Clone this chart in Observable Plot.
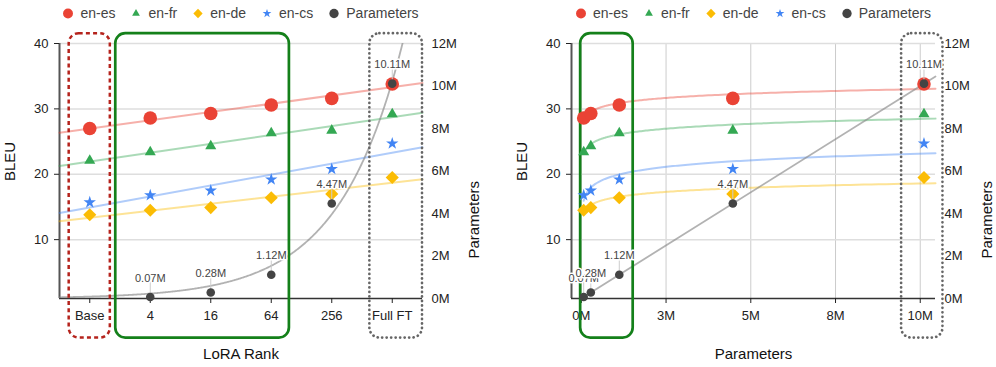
<!DOCTYPE html>
<html>
<head>
<meta charset="utf-8">
<script src="https://cdn.jsdelivr.net/npm/d3@7"></script>
<script src="https://cdn.jsdelivr.net/npm/@observablehq/plot@0.6"></script>
<style>
  body { margin: 0; background: #fff; font-family: 'Liberation Sans', Arial, Helvetica, sans-serif; }
  #wrap { display: flex; width: 996px; height: 367px; }
  .panel { position: relative; width: 498px; height: 367px; }
  .panel svg { position: absolute; left: 0; top: 0; overflow: visible; }
  .legend { position: absolute; top: 5px; display: flex; justify-content: center; align-items: center;
            font-size: 14px; color: #444; white-space: nowrap; z-index: 2; }
  .legend .item { display: flex; align-items: center; margin: 0 7.5px; }
  .legend svg { position: static; margin-right: 6px; }
</style>
</head>
<body>
<div id="wrap"></div>
<script>
// ---------------- data ----------------
const ranks = ["Base", "4", "16", "64", "256", "Full FT"];
const enEs = [27.0, 28.6, 29.3, 30.6, 31.6, 33.8];
const enFr = [22.1, 23.4, 24.3, 26.3, 26.7, 29.2];
const enDe = [13.8, 14.5, 14.9, 16.4, 17.0, 19.5];
const enCs = [15.7, 16.8, 17.5, 19.2, 20.8, 24.7];
const params = [null, 0.07e6, 0.28e6, 1.12e6, 4.47e6, 10.11e6];
const paramLabels = ["", "0.07M", "0.28M", "1.12M", "4.47M", "10.11M"];
const bleuTicks = [10, 20, 30, 40];
const paramTicks = [0, 2e6, 4e6, 6e6, 8e6, 10e6, 12e6];
const paramXTicks = [0, 2.5e6, 5e6, 7.5e6, 10e6];

// ---------------- styling ----------------
const FONT = "'Liberation Sans', Arial, Helvetica, sans-serif";
const series = [
  {name: "en-es", values: enEs, color: "#EA4335", symbol: "circle",   r: 6.8, lsym: d3.symbolCircle,   lsize: 78},
  {name: "en-fr", values: enFr, color: "#34A853", symbol: "triangle", r: 4.1, lsym: d3.symbolTriangle, lsize: 26},
  {name: "en-de", values: enDe, color: "#FBBC04", symbol: "diamond2", r: 5.9, lsym: d3.symbolDiamond2, lsize: 55},
  {name: "en-cs", values: enCs, color: "#4285F4", symbol: "star",     r: 3.9, lsym: d3.symbolStar,     lsize: 24}
];
const paramColor = "#444";
const yDomain = [1, 40];
const pScale = d3.scaleLinear([0, 12e6], yDomain); // secondary axis mapped into BLEU units
const fmtM = v => `${Math.round(v / 1e6)}M`;

const idx = d3.range(ranks.length);
const rows = idx.map(i => ({i, rank: ranks[i], param: params[i], plabel: paramLabels[i]}));
const pRows = rows.filter(d => d.param != null);

// ---------------- fits ----------------
function linReg(xs, ys) {
  const mx = d3.mean(xs), my = d3.mean(ys);
  const b = d3.sum(xs, (x, k) => (x - mx) * (ys[k] - my)) / d3.sum(xs, x => (x - mx) ** 2);
  return {a: my - b * mx, b};
}
function expFit(xs, ys) {
  let best = null;
  for (let b = 0.05; b <= 3; b += 0.0005) {
    let sye = 0, see = 0;
    xs.forEach((x, k) => { const e = Math.exp(b * x); sye += ys[k] * e; see += e * e; });
    const a = sye / see;
    let ss = 0;
    xs.forEach((x, k) => { const r = ys[k] - a * Math.exp(b * x); ss += r * r; });
    if (!best || ss < best.ss) best = {a, b, ss};
  }
  return best;
}

// ---------------- common marks ----------------
const boxStyles = {
  base: {stroke: "#b5231c", strokeWidth: 2.5, strokeDasharray: "4,3.2"},
  lora: {stroke: "#14801a", strokeWidth: 2.7},
  full: {stroke: "#666", strokeWidth: 2.7, strokeDasharray: "0.1,4.4", strokeLinecap: "round"}
};
function boxMarks(list) {
  return list.map(h => Plot.rect([h], {x1: "x1", x2: "x2", y1: -5.05, y2: 41.5, rx: 10, fill: "none", ...boxStyles[h.kind]}));
}
function axesMarks(xDomain, xTicks, xFormat, xTitle, titleDxRight, gridX) {
  return [
    ...(gridX ? [Plot.gridX(xTicks, {stroke: "#ccc", strokeOpacity: 1, strokeWidth: 1})] : []),
    Plot.gridY(bleuTicks, {stroke: "#dedede", strokeOpacity: 1, strokeWidth: 1.5}),
    Plot.ruleX([xDomain[0]], {stroke: "#555", strokeWidth: 2}),
    Plot.ruleY([yDomain[0]], {stroke: "#333", strokeWidth: 1.5}),
    Plot.axisY(bleuTicks, {anchor: "left", tickSize: 5, tickPadding: 6, fontSize: 13, fill: "#222", label: null}),
    Plot.axisY(paramTicks.map(pScale), {anchor: "right", tickSize: 0, tickPadding: 9, fontSize: 13, fill: "#222",
      tickFormat: d => fmtM(pScale.invert(d)), label: null}),
    Plot.axisX(xTicks, {anchor: "bottom", tickSize: 5, tickPadding: 7, fontSize: 13, fill: "#222", tickFormat: xFormat, label: null}),
    Plot.text([xTitle], {frameAnchor: "bottom", dy: 60, fontSize: 15, fill: "#111", text: d => d}),
    Plot.text(["BLEU"], {frameAnchor: "left", dx: -49, dy: 10, rotate: -90, fontSize: 15, fill: "#111", text: d => d}),
    Plot.text(["Parameters"], {frameAnchor: "right", dx: titleDxRight, dy: 10, rotate: -90, fontSize: 15, fill: "#111", text: d => d})
  ];
}
function pointMarks(xAcc, data) {
  return [
    ...series.map(s => Plot.dot(data, {x: xAcc, y: d => s.values[d.i], symbol: s.symbol, r: s.r, fill: s.color, stroke: "none"})),
    Plot.ruleX(data.filter(d => d.param != null), {x: xAcc, y1: d => pScale(d.param), y2: d => pScale(d.param),
      insetTop: -15, insetBottom: 0, stroke: "#ccc", strokeWidth: 1}),
    Plot.dot(data.filter(d => d.param != null), {x: xAcc, y: d => pScale(d.param), r: 4.3, fill: paramColor, stroke: "none"}),
    Plot.text(data.filter(d => d.param != null), {x: xAcc, y: d => pScale(d.param), text: "plabel", dy: -19,
      fontSize: 11, fill: "#444", stroke: "white", strokeWidth: 3, paintOrder: "stroke"})
  ];
}

// ---------------- left panel ----------------
const xDomL = [-0.5, 5.5];
const leftLines = series.map(s => {
  const f = linReg(idx, s.values);
  return Plot.line(xDomL.map(x => ({x, y: f.a + f.b * x})), {x: "x", y: "y", stroke: s.color, strokeOpacity: 0.42, strokeWidth: 2});
});
const ef = expFit(pRows.map(d => d.i), pRows.map(d => d.param / 1e6));
const leftCurve = d3.range(xDomL[0], xDomL[1] + 1e-9, 0.01).map(x => ({x, y: pScale(ef.a * Math.exp(ef.b * x) * 1e6)}));

const left = Plot.plot({
  width: 498, height: 367,
  marginLeft: 59, marginRight: 76, marginTop: 43, marginBottom: 69,
  x: {domain: xDomL, axis: null},
  y: {domain: yDomain, axis: null},
  style: {fontFamily: FONT, fontSize: "13px", color: "#222", background: "transparent", overflow: "visible"},
  marks: [
    ...axesMarks(xDomL, idx, i => ranks[i], "LoRA Rank", 52, false),
    ...leftLines,
    Plot.line(leftCurve, {x: "x", y: "y", stroke: "#888", strokeOpacity: 0.65, strokeWidth: 1.8, clip: true}),
    ...boxMarks([{x1: -0.34, x2: 0.34, kind: "base"}, {x1: 0.43, x2: 3.3, kind: "lora"}, {x1: 4.63, x2: 5.5, kind: "full"}]),
    ...pointMarks(d => d.i, rows)
  ]
});

// ---------------- right panel ----------------
const xDomR = [-0.29e6, 10.45e6];
const pMin = d3.min(pRows, d => d.param);
const xsR = d3.range(0, 201).map(k => pMin * Math.pow(xDomR[1] / pMin, k / 200));
const rightLines = series.map(s => {
  const f = linReg(pRows.map(d => Math.log(d.param)), pRows.map(d => s.values[d.i]));
  return Plot.line(xsR.map(x => ({x, y: f.a + f.b * Math.log(x)})), {x: "x", y: "y", stroke: s.color, strokeOpacity: 0.42, strokeWidth: 2});
});
const pl = linReg(pRows.map(d => d.param), pRows.map(d => d.param));
const rightParamLine = [pMin, xDomR[1]].map(x => ({x, y: pScale(pl.a + pl.b * x)}));

const right = Plot.plot({
  width: 498, height: 367,
  marginLeft: 73, marginRight: 61, marginTop: 43, marginBottom: 69,
  x: {domain: xDomR, axis: null},
  y: {domain: yDomain, axis: null},
  style: {fontFamily: FONT, fontSize: "13px", color: "#222", background: "transparent", overflow: "visible"},
  marks: [
    ...axesMarks(xDomR, paramXTicks, fmtM, "Parameters", 52, true),
    ...rightLines,
    Plot.line(rightParamLine, {x: "x", y: "y", stroke: "#888", strokeOpacity: 0.65, strokeWidth: 1.8}),
    ...boxMarks([{x1: -0.02e6, x2: 1.53e6, kind: "lora"}, {x1: 9.45e6, x2: 10.67e6, kind: "full"}]),
    ...pointMarks(d => d.param, pRows)
  ]
});

// ---------------- legend ----------------
function legend(left, width) {
  const div = document.createElement("div");
  div.className = "legend";
  div.style.left = left + "px";
  div.style.width = width + "px";
  const items = [...series.map(s => ({name: s.name, color: s.color, sym: s.lsym, size: s.lsize})),
                 {name: "Parameters", color: paramColor, sym: d3.symbolCircle, size: 68}];
  items.forEach(it => {
    const item = document.createElement("div");
    item.className = "item";
    const svg = d3.create("svg").attr("width", 12).attr("height", 12);
    svg.append("path").attr("transform", "translate(6,6.5)").attr("d", d3.symbol(it.sym, it.size)()).attr("fill", it.color);
    item.appendChild(svg.node());
    const t = document.createElement("span");
    t.textContent = it.name;
    item.appendChild(t);
    div.appendChild(item);
  });
  return div;
}

const wrap = document.getElementById("wrap");
[[left, 59, 363], [right, 73, 364]].forEach(([chart, ml, w]) => {
  const p = document.createElement("div");
  p.className = "panel";
  p.appendChild(chart);
  p.appendChild(legend(ml, w));
  wrap.appendChild(p);
});
</script>
</body>
</html>
